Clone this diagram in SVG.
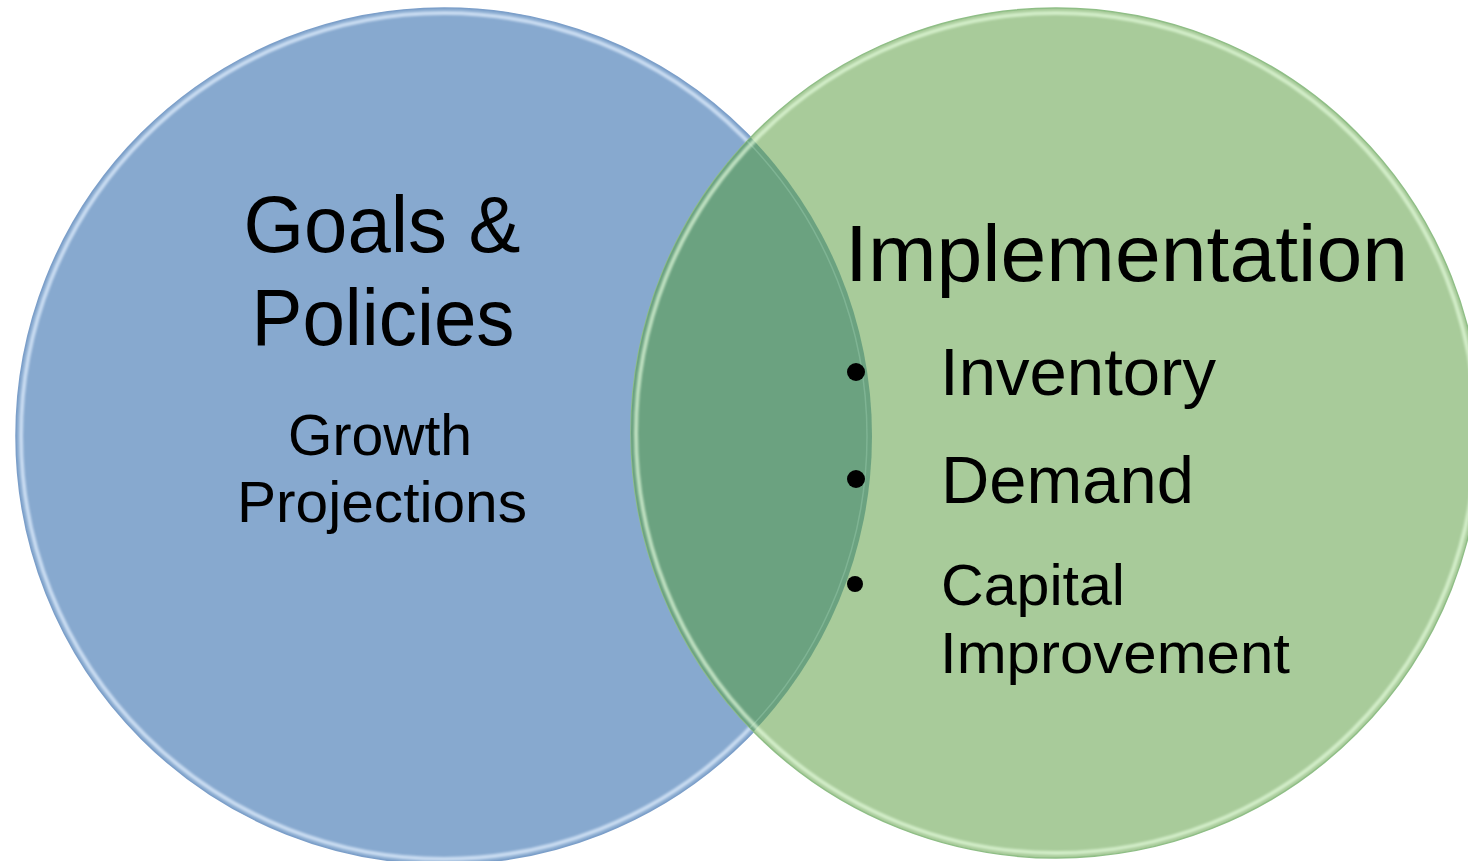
<svg xmlns="http://www.w3.org/2000/svg" width="1468" height="861" viewBox="0 0 1468 861">
<style>
.t{font-family:"Liberation Sans",Arial,sans-serif;fill:#000}
.ring{fill:none}
</style>
<defs>
<clipPath id="clipBlue"><circle cx="444" cy="436" r="428"/></clipPath>
<clipPath id="clipGreen"><circle cx="1056" cy="433" r="425"/></clipPath>
<filter id="soft" x="-5%" y="-5%" width="110%" height="110%"><feGaussianBlur stdDeviation="1"/></filter>
</defs>
<rect width="1468" height="861" fill="#fff"/>
<g id="node-goals">
<circle cx="444" cy="436" r="428" fill="#87A9CF" stroke="#7C9FC9" stroke-width="1.5"/>
<circle class="ring" cx="444" cy="436" r="423" stroke="#E4F1FF" stroke-opacity="0.7" stroke-width="4" filter="url(#soft)"/>
</g>
<g id="node-implementation">
<circle cx="1056" cy="433" r="425" fill="#A8CB9A" stroke="#8FBE86" stroke-width="1.5"/>
<circle cx="1056" cy="433" r="425" fill="#6BA280" clip-path="url(#clipBlue)"/>
<circle class="ring" cx="444" cy="436" r="423" stroke="#8CC0A0" stroke-opacity="0.6" stroke-width="1.5" clip-path="url(#clipGreen)"/>
<circle class="ring" cx="1056" cy="433" r="420" stroke="#E8FFE0" stroke-opacity="0.65" stroke-width="4" filter="url(#soft)"/>
</g>
<g id="label-goals">
<text class="t" x="382" y="252" font-size="80" text-anchor="middle" textLength="277" lengthAdjust="spacingAndGlyphs">Goals &amp;</text>
<text class="t" x="383" y="345" font-size="80" text-anchor="middle" textLength="263" lengthAdjust="spacingAndGlyphs">Policies</text>
<text class="t" x="380" y="455" font-size="58" text-anchor="middle" textLength="184" lengthAdjust="spacingAndGlyphs">Growth</text>
<text class="t" x="382" y="522" font-size="58" text-anchor="middle" textLength="290" lengthAdjust="spacingAndGlyphs">Projections</text>
</g>
<g id="label-implementation">
<text class="t" x="845" y="281" font-size="79" textLength="563" lengthAdjust="spacingAndGlyphs">Implementation</text>
<circle cx="856" cy="372" r="9"/>
<text class="t" x="940" y="395" font-size="66" textLength="276" lengthAdjust="spacingAndGlyphs">Inventory</text>
<circle cx="856" cy="479" r="9"/>
<text class="t" x="941" y="503" font-size="66" textLength="253" lengthAdjust="spacingAndGlyphs">Demand</text>
<circle cx="855" cy="584" r="8"/>
<text class="t" x="941" y="605" font-size="58" textLength="184" lengthAdjust="spacingAndGlyphs">Capital</text>
<text class="t" x="940" y="673" font-size="58" textLength="350" lengthAdjust="spacingAndGlyphs">Improvement</text>
</g>
</svg>
